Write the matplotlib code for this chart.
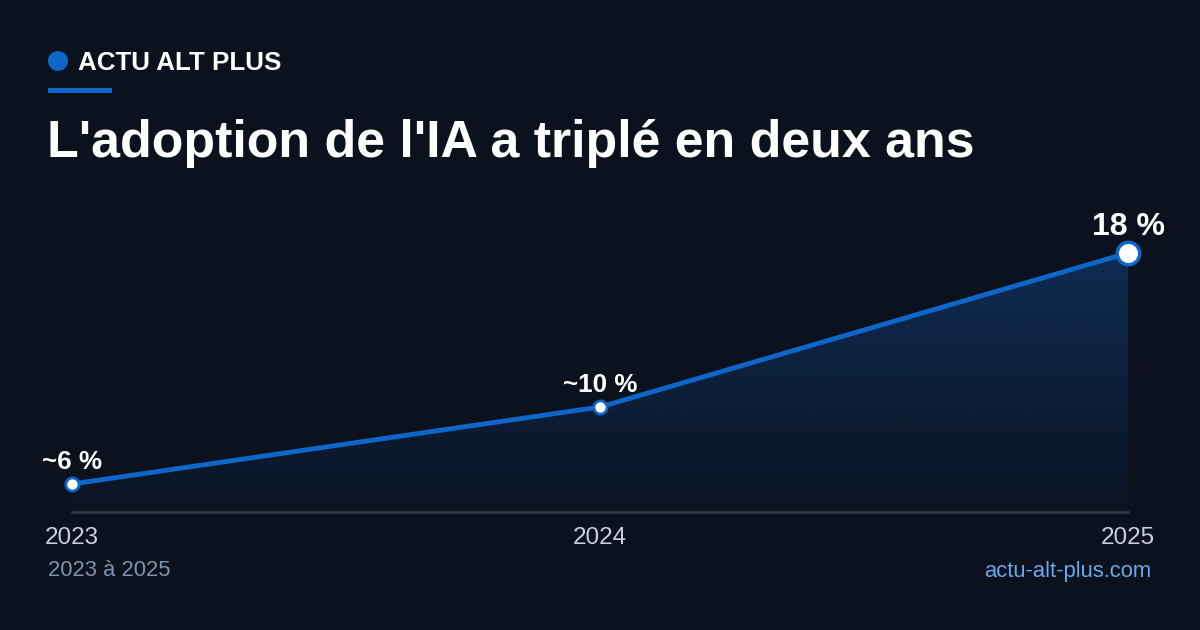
import numpy as np
import matplotlib.pyplot as plt
from matplotlib.patches import Ellipse

years = [2023, 2024, 2025]
values = [6, 10, 18]
point_labels = ["~6 %", "~10 %", "18 %"]
tick_labels = ["2023", "2024", "2025"]

BG = "#0b111d"
BLUE = "#0d66c8"
W, H = 1200, 630

plt.rcParams["font.family"] = ["Liberation Sans", "DejaVu Sans"]

fig = plt.figure(figsize=(W / 100, H / 100), dpi=100, facecolor=BG)


def px(x, y):
    # pixel coords (top-left origin) -> figure fraction
    return x / W, 1 - y / H


# header
fig.patches.append(Ellipse(px(58, 61), 20 / W, 20 / H, transform=fig.transFigure,
                           facecolor=BLUE, edgecolor="none"))
fig.patches.append(plt.Rectangle(px(48, 93), 64 / W, 5 / H, transform=fig.transFigure,
                                 facecolor=BLUE, edgecolor="none"))
fig.text(*px(78, 63), "ACTU ALT PLUS", color="white", fontsize=18.7,
         fontweight="bold", va="center", ha="left")
fig.text(*px(47, 157), "L'adoption de l'IA a triplé en deux ans", color="white",
         fontsize=37.4, fontweight="bold", va="baseline", ha="left")

# plot area
ax_top, ax_bot = 200, 512
ax = fig.add_axes([72 / W, 1 - ax_bot / H, 1056 / W, (ax_bot - ax_top) / H])
ax.set_facecolor("none")
scale = 19.25  # px per unit
ymin = 6 - (512 - 484) / scale
ymax = ymin + (ax_bot - ax_top) / scale
for s in ax.spines.values():
    s.set_visible(False)
ax.set_yticks([])

# gradient fill under the line
poly = ax.fill_between(years, values, ymin, color="none", linewidth=0)
grad = np.linspace(0, 1, 256).reshape(-1, 1)
rgba = np.zeros((256, 1, 4))
rgba[..., 0] = 0x14 / 255
rgba[..., 1] = 0x4f / 255
rgba[..., 2] = 0x9a / 255
rgba[..., 3] = 0.05 + 0.38 * grad
img = ax.imshow(rgba, extent=[2023, 2025, ymin, max(values)], origin="lower",
                aspect="auto", zorder=1)
img.set_clip_path(poly.get_paths()[0], transform=ax.transData)
ax.set_xlim(2023, 2025)
ax.set_ylim(ymin, ymax)

ax.axhline(ymin, color="#2b3648", linewidth=2, zorder=2, clip_on=False)
ax.plot(years, values, color=BLUE, linewidth=3.5, zorder=3, clip_on=False,
        solid_capstyle="round")
ax.scatter(years[:2], values[:2], s=90, facecolor="white", edgecolor=BLUE,
           linewidth=2, zorder=4, clip_on=False)
ax.scatter(years[2:], values[2:], s=260, facecolor="white", edgecolor=BLUE,
           linewidth=2.5, zorder=4, clip_on=False)

for i, (x, v, lab) in enumerate(zip(years, values, point_labels)):
    big = i == len(years) - 1
    ax.annotate(lab, (x, v), xytext=(0, 8 if big else 7), textcoords="offset points",
                ha="center", va="bottom", color="white", fontweight="bold",
                fontsize=23 if big else 18.7)

ax.set_xticks(years)
ax.set_xticklabels(tick_labels, color="#c9d1dc", fontsize=17.5)
ax.tick_params(axis="x", length=0, pad=11)

# footer
fig.text(*px(48, 571), "2023 à 2025", color="#7f93ad", fontsize=15.8,
         va="center", ha="left")
fig.text(*px(1151, 571), "actu-alt-plus.com", color="#6aa8e8", fontsize=15.8,
         va="center", ha="right")

fig.savefig("out.png", dpi=100, facecolor=BG)
